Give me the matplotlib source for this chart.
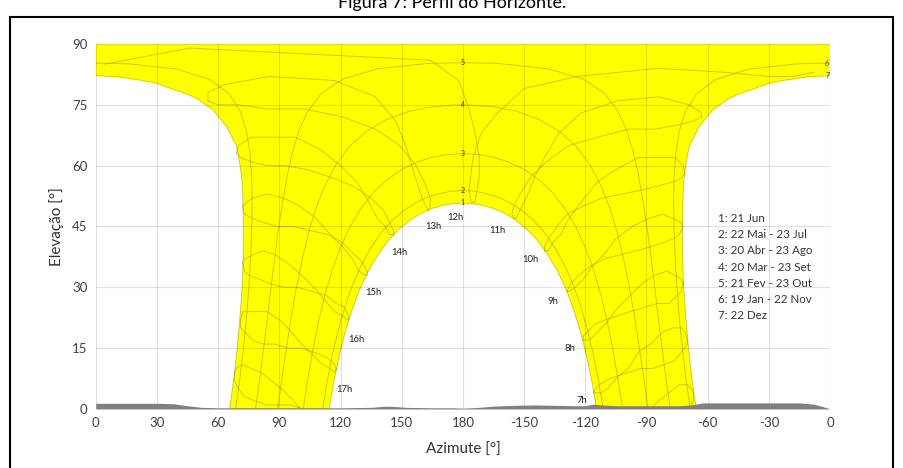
import numpy as np
import matplotlib
matplotlib.use('Agg')
import matplotlib.pyplot as plt
from matplotlib.patches import Rectangle

# ----------------------------- DATA ---------------------------------
# x = azimuth mapped onto 0..360 (0=S, 180=N, then -150..0), y = elevation [deg]

# day curves 1..7 (21 Jun .. 22 Dez)
c1x = [245.6,243.3,240.7,237.8,234.4,230.7,226.5,221.8,216.8,211.4,205.8,200.2,194.7,189.7,185.3,181.9,180.0,178.1,174.7,170.3,165.3,159.8,154.2,148.6,143.2,138.2,133.5,129.3,125.6,122.2,119.3,116.7,114.4]
c1y = [0.0,6.6,12.9,18.8,24.3,29.4,33.9,37.9,41.4,44.3,46.6,48.3,49.5,50.2,50.6,50.7,50.8,50.7,50.6,50.2,49.5,48.3,46.6,44.3,41.4,37.9,33.9,29.4,24.3,18.8,12.9,6.6,0.0]
c2x = [248.8,246.5,244.0,241.0,237.7,234.0,229.8,225.1,219.9,214.2,208.3,202.2,196.3,190.7,185.9,182.1,180.0,177.9,174.1,169.3,163.7,157.8,151.7,145.8,140.1,134.9,130.2,126.0,122.3,119.0,116.0,113.5,111.2]
c2y = [0.0,6.9,13.4,19.6,25.4,30.7,35.5,39.8,43.6,46.7,49.2,51.1,52.4,53.2,53.7,53.8,53.9,53.8,53.7,53.2,52.4,51.1,49.2,46.7,43.6,39.8,35.5,30.7,25.4,19.6,13.4,6.9,0.0]
c3x = [258.3,256.0,253.5,250.8,247.7,244.2,240.1,235.5,230.2,224.1,217.3,210.0,202.3,194.9,188.2,182.9,180.0,177.1,171.8,165.1,157.7,150.0,142.7,135.9,129.8,124.5,119.9,115.8,112.3,109.2,106.5,104.0,101.7]
c3y = [0.0,7.5,14.7,21.5,28.0,34.1,39.7,44.8,49.3,53.3,56.5,59.1,60.9,62.1,62.7,62.9,63.0,62.9,62.7,62.1,60.9,59.1,56.5,53.3,49.3,44.8,39.7,34.1,28.0,21.5,14.7,7.5,0.0]
c4x = [270.8,268.6,266.3,264.0,261.5,258.7,255.6,252.0,247.6,242.3,235.7,227.5,217.7,206.4,195.1,185.4,180.0,174.6,164.9,153.6,142.3,132.5,124.3,117.7,112.4,108.0,104.4,101.3,98.5,96.0,93.7,91.4,89.2]
c4y = [0.0,8.0,15.7,23.2,30.3,37.1,43.6,49.6,55.1,60.2,64.7,68.4,71.3,73.4,74.5,74.9,75.0,74.9,74.5,73.4,71.3,68.4,64.7,60.2,55.1,49.6,43.6,37.1,30.3,23.2,15.7,8.0,0.0]
c5x = [281.7,279.4,277.4,275.5,273.8,272.0,270.2,268.2,266.1,263.5,260.3,255.9,249.5,239.1,221.7,197.4,180.0,162.6,138.3,120.9,110.5,104.1,99.7,96.5,93.9,91.8,89.8,88.0,86.2,84.5,82.6,80.6,78.3]
c5y = [0.0,8.1,16.1,23.7,31.1,38.3,45.1,51.5,57.7,63.4,68.7,73.5,77.8,81.3,83.9,85.2,85.4,85.2,83.9,81.3,77.8,73.5,68.7,63.4,57.7,51.5,45.1,38.3,31.1,23.7,16.1,8.1,0.0]
c6x = [291.4,289.2,287.4,285.9,284.8,284.0,283.5,283.3,283.6,284.4,286.1,289.1,294.4,303.8,320.2,343.5,360.0,0.0,16.5,39.8,56.2,65.6,70.9,73.9,75.6,76.4,76.7,76.5,76.0,75.2,74.1,72.6,70.8,68.6]
c6y = [0.0,8.0,15.8,23.5,30.9,38.0,44.8,51.3,57.4,63.2,68.5,73.4,77.6,81.2,83.8,85.1,85.3,85.3,85.1,83.8,81.2,77.6,73.4,68.5,63.2,57.4,51.3,44.8,38.0,30.9,23.5,15.8,8.0,0.0]
c7x = [294.4,292.2,290.5,289.2,288.2,287.7,287.6,287.9,288.4,289.3,290.9,295.8,302.4,310.6,316.0,322.0,330.0,338.3,349.7,360.0,
       0.0,10.3,21.7,30.0,38.0,44.0,49.4,57.6,64.2,69.1,70.7,71.6,72.1,72.4,72.3,71.8,70.8,69.5,67.8,65.6]
c7y = [0.0,7.9,15.7,23.2,30.6,37.6,44.4,52.3,56.9,60.2,64.7,69.6,73.7,76.6,77.8,78.8,80.3,81.1,81.9,82.2,
       82.2,81.9,81.1,80.3,78.8,77.8,76.6,73.7,69.6,64.7,60.2,56.9,52.3,44.4,37.6,30.6,23.2,15.7,7.9,0.0]
day_x = [c1x, c2x, c3x, c4x, c5x, c6x, c7x]
day_y = [c1y, c2y, c3y, c4y, c5y, c6y, c7y]
day_legend = ['1: 21 Jun', '2: 22 Mai - 23 Jul', '3: 20 Abr - 23 Ago', '4: 20 Mar - 23 Set',
              '5: 21 Fev - 23 Out', '6: 19 Jan - 22 Nov', '7: 22 Dez']

# hour lines (legal time 6h..18h), two half-years each: (x, y)
hour_lines = [
    ([293,293,291,287,283,277,271,265,259], [4,2,0,-2,-3,-4,-5,-5,-6]),
    ([265,270,276,281,286,290,292,293], [-4,-1,2,4,6,6,5,4]),
    ([290,290,287,284,279,273,267,261,255,250,247,245,244], [17,16,14,12,11,10,10,9,8,7,6,5,4]),
    ([244,245,248,251,256,261,266,272,278,283,287,289,290], [4,4,4,5,8,10,14,16,19,20,20,19,17]),
    ([288,287,285,281,275,269,262,256,250,245,241,239,239], [31,29,28,26,26,25,24,23,22,21,19,18,17]),
    ([239,240,242,246,250,256,262,268,274,280,284,287,288], [17,17,17,19,21,25,28,31,33,34,33,32,31]),
    ([288,286,283,278,272,265,257,249,242,237,233,232,231], [45,43,42,41,40,39,38,37,35,33,31,30,29]),
    ([231,232,235,239,243,249,255,263,271,278,283,287,288], [29,29,30,32,35,38,42,45,47,48,47,46,45]),
    ([289,287,283,276,268,258,248,239,231,226,222,220,220], [58,57,56,55,54,53,52,50,48,45,42,40,39]),
    ([220,222,224,228,232,238,246,255,266,276,284,288,289], [39,39,41,43,47,51,56,59,62,62,62,60,58]),
    ([297,293,285,274,261,246,232,221,213,208,205,204,205], [72,71,70,69,69,67,65,61,57,53,50,48,47]),
    ([205,206,208,211,215,220,227,238,256,276,291,297,297], [47,47,49,52,57,62,68,73,76,77,75,73,72]),
    ([342,329,309,276,236,210,197,189,185,184,183,184,185], [82,82,83,84,82,79,73,68,62,58,54,51,51]),
    ([185,186,187,188,188,186,183,178,164,46,4,352,342], [51,51,54,57,62,68,74,81,86,89,85,83,82]),
    ([55,55,63,85,117,137,147,152,155,158,160,162,163], [76,78,80,82,81,77,71,65,60,55,52,50,49]),
    ([163,164,164,161,157,149,137,121,102,84,70,60,55], [49,50,52,56,60,65,69,72,74,74,75,75,76]),
    ([69,70,76,85,98,110,120,128,134,138,142,144,146], [63,65,67,67,67,64,60,56,51,47,45,43,43]),
    ([146,146,144,141,135,126,116,104,93,84,76,71,69], [43,44,46,49,52,55,57,59,60,60,61,62,63]),
    ([72,74,77,84,92,100,108,115,121,126,129,132,133], [50,51,52,53,52,50,47,43,40,37,34,33,33]),
    ([133,133,131,127,121,114,105,97,89,82,77,73,72], [33,34,36,38,41,43,44,45,45,46,47,48,50]),
    ([72,73,77,82,88,94,101,107,112,117,121,123,124], [36,37,38,39,38,36,33,30,27,24,23,22,22]),
    ([124,124,122,118,113,106,99,92,85,80,75,73,72], [22,23,25,26,28,29,30,30,31,32,33,34,36]),
    ([71,72,75,79,84,90,96,101,107,111,115,117,118], [22,24,24,24,24,22,19,16,13,11,10,9,10]),
    ([118,117,115,112,107,101,94,88,82,77,73,71,71], [10,11,12,13,14,15,15,16,16,17,19,20,22]),
    ([68,69,72,76,81,86,91,97,102,107,110,112,113], [9,10,11,10,9,7,5,2,-1,-3,-4,-4,-3]),
    ([113,113,111,107,102,96,90,84,78,73,70,68,68], [-3,-2,-1,0,0,1,1,1,2,3,5,7,9]),
]
hour_lbl = ['7h', '8h', '9h', '10h', '11h', '12h', '13h', '14h', '15h', '16h', '17h']
hour_lbl_x = [238.2, 232.5, 224.3, 213.2, 197.1, 176.5, 165.5, 148.7, 136.1, 127.9, 121.7]
hour_lbl_y = [2.0, 14.8, 26.6, 36.9, 44.1, 47.3, 45.1, 38.5, 28.7, 17.2, 4.7]

# horizon profile
hx = [0, 10, 20, 30, 38, 45, 52, 60, 90, 120, 135, 142, 147, 152, 165, 175, 180, 188, 195, 205, 215, 225, 235, 240, 244, 248, 255, 270, 285, 292, 298, 310, 330, 345, 352, 357, 360]
hy = [1.4, 1.4, 1.4, 1.4, 1.3, 0.8, 0.4, 0.3, 0.3, 0.3, 0.4, 0.7, 0.6, 0.4, 0.3, 0.3, 0.2, 0.4, 0.7, 0.9, 1.0, 0.9, 0.8, 0.8, 1.2, 1.0, 0.8, 0.8, 0.8, 1.0, 1.5, 1.5, 1.5, 1.5, 1.2, 0.5, 0.0]

xtick_lbl = ['0', '30', '60', '90', '120', '150', '180', '-150', '-120', '-90', '-60', '-30', '0']

# ----------------------------- PLOT ---------------------------------

def plot_wrapped(ax, x, y, **kw):
    # break the line where it jumps across the 0/360 (south) edge
    seg = [0]
    for i in range(1, len(x)):
        if abs(x[i]-x[i-1]) > 180:
            seg.append(i)
    seg.append(len(x))
    for a, b in zip(seg[:-1], seg[1:]):
        ax.plot(x[a:b], y[a:b], **kw)

plt.rcParams['font.family'] = ['Lato', 'DejaVu Sans']
fig = plt.figure(figsize=(9.04, 4.68), dpi=100)
ax = fig.add_axes([0.1059, 0.1261, 0.8123, 0.7799])

# yellow band between 21 Jun and 22 Dez
i0 = c7x.index(0.0)
px = [0] + c7x[i0:] + c1x[::-1] + c7x[:i0] + [360]
py = [90] + c7y[i0:] + c1y[::-1] + c7y[:i0] + [90]
ax.fill(px, py, color='#ffff00', lw=0, zorder=1)

lc = dict(color=(0.55, 0.55, 0.0), alpha=0.45, lw=0.7, zorder=2)
for x, y in zip(day_x, day_y):
    plot_wrapped(ax, x, y, **lc)
for x, y in hour_lines:
    plot_wrapped(ax, x, y, **lc)

ax.fill_between(hx, 0, hy, color='#808080', lw=0, zorder=3)

# labels on the curves
for k in range(5):
    ax.text(180, day_y[k][16], str(k+1), fontsize=5, ha='center', va='center', color='#333333', zorder=4)
ax.text(358.3, c6y[16], '6', fontsize=5, ha='center', va='center', color='#333333', zorder=4)
ax.text(358.8, c7y[i0], '7', fontsize=5, ha='center', va='center', color='#333333', zorder=4)
for t, x, y in zip(hour_lbl, hour_lbl_x, hour_lbl_y):
    ax.text(x, y, t, fontsize=6.8, ha='center', va='center', color='#222222', zorder=4)
for i, t in enumerate(day_legend):
    ax.text(305.2, 47.0 - 4.0*i, t, fontsize=8.3, ha='left', va='center', color='#333333', zorder=4)

ax.set_xlim(0, 360)
ax.set_ylim(0, 90)
ax.set_xticks(np.arange(0, 361, 30))
ax.set_xticklabels(xtick_lbl)
ax.set_yticks(np.arange(0, 91, 15))
ax.tick_params(length=0, labelsize=9.5, labelcolor='#404040', pad=6)
ax.grid(True, color='black', alpha=0.12, lw=0.8)
ax.set_axisbelow(False)
for s in ax.spines.values():
    s.set_visible(False)
ax.set_xlabel('Azimute [°]', fontsize=11, color='#333333', labelpad=10)
ax.set_ylabel('Elevação [°]', fontsize=11, color='#333333', labelpad=6)

fig.text(0.5, 1-8/468, 'Figura 7: Perfil do Horizonte.', ha='center', va='baseline', fontsize=13)
fig.patches.append(Rectangle((10/904, -0.05), 883/904, 1.05-17/468, transform=fig.transFigure,
                             fill=False, ec='black', lw=1.5))

fig.savefig('out.png', dpi=100)
